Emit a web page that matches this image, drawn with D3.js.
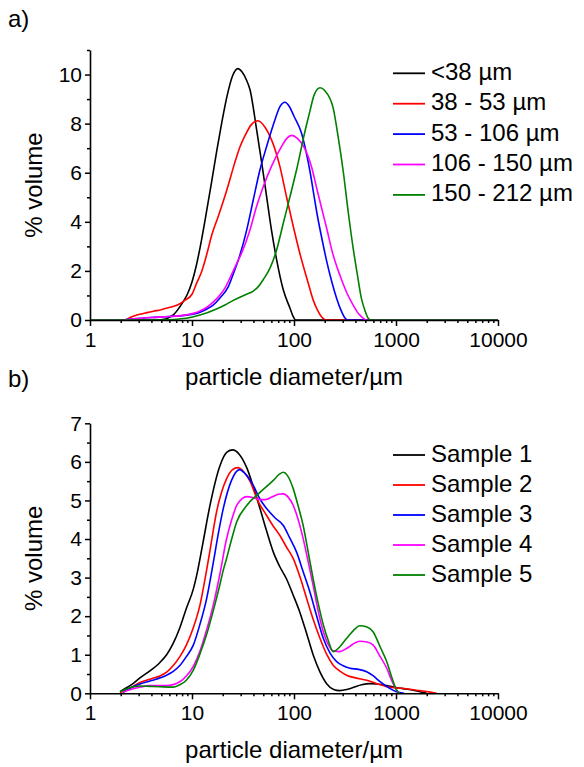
<!DOCTYPE html>
<html>
<head>
<meta charset="utf-8">
<script src="https://cdn.jsdelivr.net/npm/d3@7"></script>
<style>
  body { margin: 0; background: #fff; }
  text { font-family: "Liberation Sans", Arial, sans-serif; }
</style>
</head>
<body>
<div id="vis"></div>
<script>
// ---- data: [diameter in µm, % volume] ----
const xTickValues = [1, 10, 100, 1000, 10000];

const sieveLabels = ["<38 µm", "38 - 53 µm", "53 - 106 µm", "106 - 150 µm", "150 - 212 µm"];
const sampleLabels = ["Sample 1", "Sample 2", "Sample 3", "Sample 4", "Sample 5"];
const seriesColors = ["#000000", "#ff0000", "#0000ff", "#ff00ff", "#008000"];

const frac_lt38 = [[1,0],[4.5,0],[5.5,0.04],[6.1,0.13],[6.6,0.22],[7.6,0.54],[8.2,0.75],[9,1.05],[10,1.55],[11,2.2],[12,2.95],[13.8,4.35],[15.6,5.65],[17.5,6.9],[19.5,8.0],[22,9.1],[25,9.95],[28.1,10.24],[31,10.1],[34,9.8],[37,9.39],[43,7.76],[48.3,6.39],[53.9,5.03],[60.1,3.67],[67.6,2.45],[78.6,1.22],[91.4,0.48],[98,0.15],[104,0],[10000,0]];
const frac_38_53 = [[1,0],[2.2,0],[2.47,0.1],[3,0.22],[3.6,0.3],[4.2,0.36],[5,0.42],[5.6,0.48],[6.5,0.55],[7.6,0.66],[8.5,0.8],[10,1.05],[11.1,1.5],[12.5,2.0],[14,2.7],[15.6,3.45],[18,4.2],[20.3,4.85],[22.7,5.5],[26,6.35],[29.5,7.05],[33,7.5],[38,7.95],[44.5,8.12],[52,7.85],[60.1,7.35],[72.7,6.26],[84.3,5.03],[98.4,3.81],[114,2.72],[138,1.5],[154,0.82],[170,0.4],[186,0.13],[205,0],[10000,0]];
const frac_53_106 = [[1,0],[2,0],[2.7,0.05],[4,0.1],[6,0.14],[8.8,0.2],[10.5,0.25],[12,0.32],[14,0.45],[16,0.6],[18.8,0.9],[22.7,1.36],[25.5,1.9],[28.5,2.45],[34.4,3.67],[39.9,4.9],[46.4,6.12],[53.9,7.07],[65.1,8.16],[73,8.7],[81.6,8.87],[90,8.7],[100,8.3],[118.8,7.6],[133,6.75],[143.5,6.05],[158,5.0],[167,4.4],[188,3.3],[209,2.4],[235,1.55],[262,0.88],[290,0.38],[316,0.08],[335,0],[10000,0]];
const frac_106_150 = [[1,0],[2,0],[2.7,0.05],[4,0.1],[6,0.14],[8.8,0.21],[10.5,0.28],[12,0.37],[14,0.52],[16,0.72],[18.8,1.02],[21,1.3],[24.4,1.85],[27.4,2.3],[30.6,2.72],[37,3.67],[43,4.63],[50,5.44],[60.1,6.26],[75.6,7.07],[85,7.4],[94.8,7.52],[108,7.4],[123,7.1],[148,6.26],[167,5.37],[188,4.5],[209,3.74],[240,2.7],[281,1.84],[330,1.1],[380,0.61],[430,0.25],[478,0.07],[510,0],[10000,0]];
const frac_150_212 = [[1,0],[5,0],[8.8,0.07],[12,0.2],[17.4,0.45],[21,0.61],[25.4,0.8],[33,1.02],[39.9,1.18],[44.7,1.36],[50,1.65],[58,2.1],[67.6,2.86],[78.6,3.95],[91.4,5.03],[106,6.12],[130,7.8],[143,8.5],[158,9.18],[180,9.46],[200,9.35],[242,8.64],[270,7.5],[304,6.05],[340,4.4],[380,2.93],[420,1.8],[458,0.88],[500,0.35],[534,0.07],[560,0],[10000,0]];

const sample1 = [[1.97,0.04],[2.3,0.15],[2.66,0.26],[3.09,0.4],[3.87,0.58],[4.85,0.8],[5.64,1.0],[6.5,1.28],[7.6,1.7],[8.8,2.2],[10.3,2.7],[11.1,3.05],[12.8,3.9],[15,4.87],[18.8,5.9],[22,6.25],[25.1,6.31],[29,6.2],[34.4,5.85],[40,5.35],[46.4,4.79],[54,4.2],[62.7,3.66],[72,3.3],[84.3,2.97],[98,2.55],[113.8,2.11],[133,1.55],[154,1.0],[180,0.55],[209,0.25],[245,0.1],[281,0.07],[330,0.1],[380,0.15],[460,0.22],[555,0.25],[650,0.24],[812,0.2],[1000,0.15],[1260,0.11],[1600,0.06],[2000,0]];
const sample2 = [[1.97,0.02],[2.4,0.12],[3.09,0.28],[4,0.38],[4.85,0.45],[5.64,0.55],[6.56,0.72],[7.6,0.95],[8.8,1.25],[10.3,1.7],[12,2.3],[13.5,3.0],[15,3.7],[17.4,4.7],[21.8,5.56],[25,5.8],[28,5.85],[32,5.75],[37,5.5],[44,5.0],[53.9,4.61],[62,4.35],[72.7,4.09],[84,3.8],[98.4,3.49],[115,3.0],[133,2.46],[155,1.9],[180,1.42],[210,1.0],[242,0.73],[280,0.58],[327,0.47],[400,0.4],[516,0.34],[650,0.25],[812,0.17],[1000,0.14],[1260,0.12],[1700,0.07],[2150,0.03],[2500,0]];
const sample3 = [[2.1,0.02],[2.29,0.09],[2.7,0.18],[3.09,0.24],[4,0.33],[5.64,0.47],[6.5,0.56],[7.6,0.72],[8.8,0.95],[10.3,1.25],[12,1.8],[13.9,2.45],[16.2,3.4],[18,4.1],[20.3,4.8],[24.4,5.52],[29.2,5.8],[33,5.7],[39.9,5.39],[46,5.05],[53.9,4.79],[65,4.55],[78.6,4.35],[90,4.05],[106,3.66],[123,3.15],[143,2.63],[167,2.0],[194,1.42],[225,1.05],[262,0.82],[300,0.72],[354,0.65],[430,0.62],[516,0.56],[600,0.45],[698,0.3],[850,0.14],[1010,0.04],[1200,0]];
const sample4 = [[2.1,0.03],[2.5,0.1],[3,0.15],[3.87,0.2],[5,0.2],[5.64,0.2],[7.6,0.3],[8.8,0.45],[10.3,0.7],[12,1.1],[13.9,1.64],[16.2,2.3],[18.8,3.1],[21.8,4.0],[24.5,4.5],[27.4,4.87],[31,5.05],[34.4,5.1],[40,5.07],[46,5.02],[52.3,5.02],[62,5.1],[70,5.16],[78.6,5.17],[88,5.08],[98.4,4.87],[110,4.5],[123,4.01],[138,3.4],[154,2.8],[172,2.15],[194,1.59],[218,1.25],[242,1.1],[280,1.08],[327,1.16],[380,1.28],[442,1.35],[520,1.33],[598,1.25],[700,0.95],[812,0.65],[900,0.35],[1010,0.09],[1080,0]];
const sample5 = [[1.97,0.04],[2.3,0.12],[2.7,0.17],[3.09,0.19],[3.87,0.18],[4.85,0.17],[6.56,0.16],[7.6,0.22],[8.8,0.34],[10.3,0.6],[12,1.03],[14,1.55],[16.2,2.15],[18.5,2.75],[20.3,3.2],[21.8,3.49],[24.5,4.0],[27.4,4.44],[34.4,4.87],[46.4,5.21],[62.7,5.52],[72,5.68],[78.6,5.73],[86,5.65],[98.4,5.3],[110,4.85],[123,4.35],[138,3.65],[154,2.97],[172,2.35],[194,1.77],[218,1.35],[242,1.08],[280,1.2],[327,1.42],[380,1.62],[442,1.75],[520,1.72],[598,1.59],[700,1.2],[812,0.82],[900,0.45],[1010,0.09],[1080,0]];

const width = 584;
const height = 767;
const fontFam = '"Liberation Sans", Arial, sans-serif';

const svg = d3.select("#vis").append("svg").attr("width", width).attr("height", height);

function drawPanel(p) {
    const x = d3.scaleLog().domain([1, 10000]).range([90, 498]);
    const y = d3.scaleLinear().domain([0, p.yMax]).range([p.bottom, p.top]);

    // minor log ticks 2..9 in each decade
    const xMinor = [];
    [1, 10, 100, 1000].forEach(dec => { for (let k = 2; k <= 9; k++) xMinor.push(dec * k); });

    const g = svg.append("g");

    const line = d3.line()
        .x(d => x(d[0]))
        .y(d => y(d[1]))
        .curve(d3.curveMonotoneX);

    p.series.forEach((s, i) => {
        g.append("path")
            .datum(s)
            .attr("fill", "none")
            .attr("stroke", seriesColors[i])
            .attr("stroke-width", 1.6)
            .attr("d", line);
    });

    // x axis
    g.append("g")
        .attr("transform", `translate(0,${p.bottom})`)
        .call(d3.axisBottom(x).tickValues(xMinor).tickSize(3).tickSizeOuter(0).tickFormat(""))
        .call(a => a.select(".domain").remove())
        .selectAll("line").attr("stroke-width", 1.5);

    const xAxis = g.append("g")
        .attr("transform", `translate(0,${p.bottom})`)
        .call(d3.axisBottom(x).tickValues(xTickValues).tickSize(6).tickPadding(6).tickSizeOuter(0).tickFormat(d3.format("d")));
    xAxis.select(".domain").attr("stroke-width", 1.6);
    xAxis.selectAll("line").attr("stroke-width", 1.5);
    xAxis.selectAll("text").attr("font-size", 21).attr("font-family", fontFam);

    // y axis
    g.append("g")
        .attr("transform", "translate(90,0)")
        .call(d3.axisLeft(y).tickValues(p.yMinor).tickSize(3).tickSizeOuter(0).tickFormat(""))
        .call(a => a.select(".domain").remove())
        .selectAll("line").attr("stroke-width", 1.5);

    const yAxis = g.append("g")
        .attr("transform", "translate(90,0)")
        .call(d3.axisLeft(y).tickValues(p.yMajor).tickSize(5).tickPadding(3).tickSizeOuter(0).tickFormat(d3.format("d")));
    yAxis.select(".domain").attr("stroke-width", 1.6);
    yAxis.selectAll("line").attr("stroke-width", 1.5);
    yAxis.selectAll("text").attr("font-size", 21).attr("font-family", fontFam);

    // axis titles
    g.append("text")
        .attr("x", 294)
        .attr("y", p.bottom + 65)
        .attr("text-anchor", "middle")
        .attr("font-size", 24)
        .text("particle diameter/µm");

    g.append("text")
        .attr("transform", `translate(42,${(p.top + p.bottom) / 2}) rotate(-90)`)
        .attr("text-anchor", "middle")
        .attr("font-size", 24)
        .text("% volume");

    // panel letter
    g.append("text")
        .attr("x", 8)
        .attr("y", p.letterY)
        .attr("font-size", 24)
        .text(p.letter);

    // legend
    const legend = g.append("g").attr("transform", `translate(393,${p.legendY})`);
    p.labels.forEach((lab, i) => {
        legend.append("line")
            .attr("x1", 0).attr("x2", 32)
            .attr("y1", i * p.legendStep).attr("y2", i * p.legendStep)
            .attr("stroke", seriesColors[i])
            .attr("stroke-width", 1.8);
        legend.append("text")
            .attr("x", 38)
            .attr("y", i * p.legendStep + 6.5)
            .attr("font-size", 24)
            .text(lab);
    });
}

drawPanel({
    top: 50, bottom: 320, yMax: 11,
    yMajor: [0, 2, 4, 6, 8, 10], yMinor: [1, 3, 5, 7, 9, 11],
    series: [frac_lt38, frac_38_53, frac_53_106, frac_106_150, frac_150_212],
    labels: sieveLabels,
    letter: "a)", letterY: 27,
    legendY: 73.3, legendStep: 30.4
});

drawPanel({
    top: 423.3, bottom: 693.3, yMax: 7,
    yMajor: [0, 1, 2, 3, 4, 5, 6, 7], yMinor: [0.5, 1.5, 2.5, 3.5, 4.5, 5.5, 6.5],
    series: [sample1, sample2, sample3, sample4, sample5],
    labels: sampleLabels,
    letter: "b)", letterY: 387,
    legendY: 455, legendStep: 30
});
</script>
</body>
</html>
